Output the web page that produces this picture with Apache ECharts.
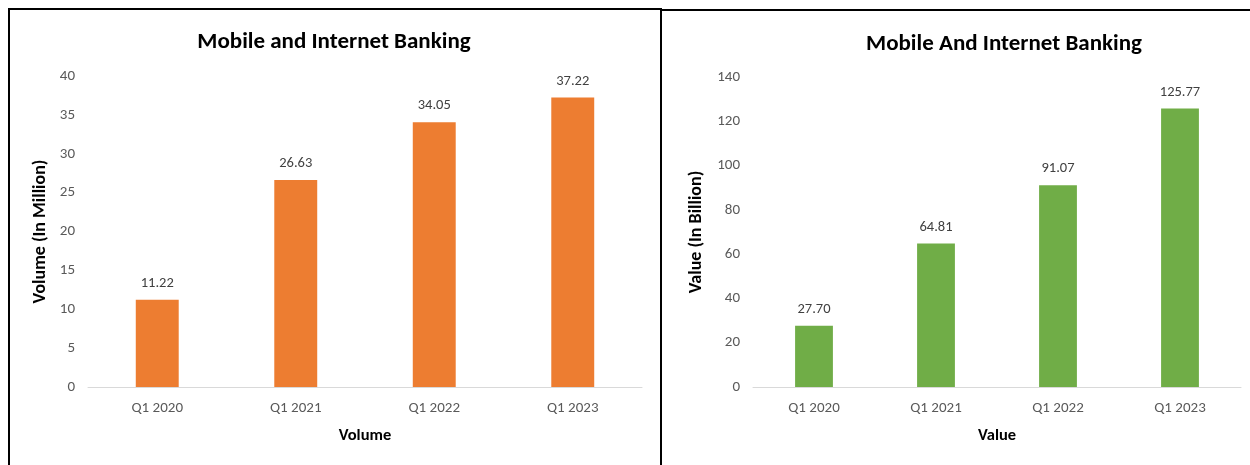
<!DOCTYPE html>
<html>
<head>
<meta charset="utf-8">
<script src="https://cdn.jsdelivr.net/npm/echarts@6/dist/echarts.min.js"></script>
<style>
    html, body { margin: 0; padding: 0; background: #fff; }
    .panel { position: absolute; box-sizing: border-box; }
    #leftBox { left: 8px; top: 8px; width: 654px; height: 480px; border: 2px solid #000; }
    #rightBox { left: 660px; top: 9px; width: 600px; height: 480px; border-left: 2px solid #000; border-top: 2px solid #000; }
    #chartDiv { position: absolute; left: 0; top: 0; width: 1250px; height: 465px; }
</style>
</head>
<body>
<div id="leftBox" class="panel"></div>
<div id="rightBox" class="panel"></div>
<div id="chartDiv"></div>
<script>
// data
const categories = ['Q1 2020', 'Q1 2021', 'Q1 2022', 'Q1 2023']
const volumeData = [11.22, 26.63, 34.05, 37.22]
const valueData = [27.70, 64.81, 91.07, 125.77]
const volumeTicks = { min: 0, max: 40, interval: 5 }
const valueTicks = { min: 0, max: 140, interval: 20 }

const fontFamily = 'Carlito, "Open Sans", sans-serif'
const tickStyle = { color: '#595959', fontSize: 15, fontFamily: fontFamily }

function xAxisCfg(idx, name) {
    return {
        type: 'category',
        gridIndex: idx,
        data: categories,
        name: name,
        nameLocation: 'middle',
        nameGap: 40,
        nameTextStyle: { color: '#000', fontSize: 16.5, fontWeight: 'bold', fontFamily: fontFamily },
        axisLine: { lineStyle: { color: '#d9d9d9', width: 1 } },
        axisTick: { show: false },
        axisLabel: Object.assign({ margin: 14 }, tickStyle)
    }
}
function yAxisCfg(idx, name, ticks, gap) {
    return {
        type: 'value',
        gridIndex: idx,
        min: ticks.min,
        max: ticks.max,
        interval: ticks.interval,
        name: name,
        nameLocation: 'middle',
        nameGap: gap,
        nameTextStyle: { color: '#000', fontSize: 18, fontWeight: 'bold', fontFamily: fontFamily },
        axisLine: { show: false },
        axisTick: { show: false },
        splitLine: { show: false },
        axisLabel: Object.assign({ margin: 13 }, tickStyle)
    }
}
function barSeries(idx, data, color) {
    return {
        type: 'bar',
        xAxisIndex: idx,
        yAxisIndex: idx,
        data: data,
        barWidth: '31%',
        itemStyle: { color: color },
        label: {
            show: true,
            position: 'top',
            distance: 9,
            color: '#404040',
            fontSize: 14.5,
            fontFamily: fontFamily,
            formatter: p => p.value.toFixed(2)
        }
    }
}

let chartContainer = document.getElementById('chartDiv')
let myChart = echarts.init(chartContainer)
let options = {
    animation: false,
    title: [
        {
            text: 'Mobile and Internet Banking',
            left: 329, top: 26, textAlign: 'center',
            textStyle: { fontSize: 23, fontWeight: 'bold', color: '#000', fontFamily: fontFamily }
        },
        {
            text: 'Mobile And Internet Banking',
            left: 999, top: 28, textAlign: 'center',
            textStyle: { fontSize: 23, fontWeight: 'bold', color: '#000', fontFamily: fontFamily }
        }
    ],
    grid: [
        { left: 88, right: 608, top: 76, bottom: 78 },
        { left: 753, right: 9, top: 77, bottom: 78 }
    ],
    xAxis: [xAxisCfg(0, 'Volume'), xAxisCfg(1, 'Value')],
    yAxis: [
        yAxisCfg(0, 'Volume (In Million)', volumeTicks, 39),
        yAxisCfg(1, 'Value (In Billion)', valueTicks, 48)
    ],
    series: [
        barSeries(0, volumeData, '#ED7D31'),
        barSeries(1, valueData, '#70AD47')
    ]
}
options && myChart.setOption(options)
</script>
</body>
</html>
